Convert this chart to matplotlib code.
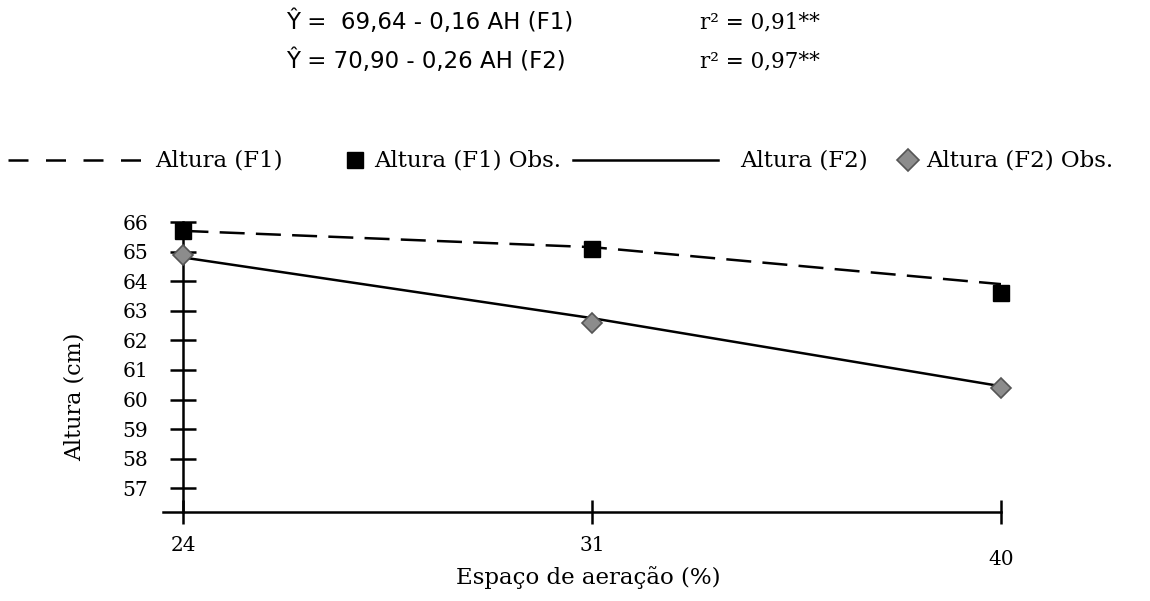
import matplotlib
matplotlib.use("Agg")
import matplotlib.pyplot as plt
from matplotlib.lines import Line2D
import matplotlib.transforms as mtrans

plt.rcParams['font.family'] = ['DejaVu Serif']

# ---- data ----
x_labels = ["24", "31", "40"]
f1_obs = [65.7, 65.1, 63.6]
f2_obs = [64.9, 62.6, 60.4]
f1_fit = [65.7, 65.15, 63.9]
f2_fit = [64.8, 62.75, 60.45]
y_ticks = [57, 58, 59, 60, 61, 62, 63, 64, 65, 66]

W, H = 1150, 601
fig = plt.figure(figsize=(W / 100, H / 100), dpi=100)
ax = fig.add_axes([163 / W, 1 - 512 / H, (1001 - 163) / W, (512 - 222) / H])

xpos = list(range(len(x_labels)))
ax.plot(xpos, f1_fit, color='black', lw=1.8, dashes=(10, 4.5), zorder=2)
ax.plot(xpos, f2_fit, color='black', lw=1.8, zorder=2)
ax.plot(xpos, f1_obs, ls='none', marker='s', ms=12, mfc='black', mec='black', zorder=3, clip_on=False)
ax.plot(xpos, f2_obs, ls='none', marker='D', ms=10.5, mfc='#8c8c8c', mec='#555555', mew=1.2, zorder=3, clip_on=False)

ax.set_xlim(-0.05, 2)
ax.set_ylim(56.2, 66)
ax.spines['left'].set_position(('data', 0))
for s in ['top', 'right']:
    ax.spines[s].set_visible(False)
for s in ['left', 'bottom']:
    ax.spines[s].set_linewidth(1.8)

ax.set_yticks(y_ticks)
ax.set_yticklabels([str(v) for v in y_ticks])
ax.set_xticks(xpos)
ax.set_xticklabels(x_labels)
ax.tick_params(axis='y', direction='inout', length=19, width=1.8, labelsize=14.5, pad=16)
ax.tick_params(axis='x', direction='inout', length=17, width=1.8, labelsize=14.5, pad=9)
# last x label sits slightly lower in the reference
lab = ax.get_xticklabels()[2]
lab.set_transform(lab.get_transform() + mtrans.ScaledTranslation(0, -14 / 100, fig.dpi_scale_trans))

ax.set_ylabel("Altura (cm)", fontsize=16)
ax.yaxis.set_label_coords((75 - 163) / (1001 - 163), (512 - 397) / (512 - 222))
ax.set_xlabel("Espaço de aeração (%)", fontsize=16.5)
ax.xaxis.set_label_coords((588 - 163) / (1001 - 163), (512 - 578) / (512 - 222))
ax.xaxis.label.set_va('center')
ax.yaxis.label.set_va('center')

# ---- equations ----
sans = ['DejaVu Sans']
fig.text(286 / W, 1 - 22 / H, "Ŷ =  69,64 - 0,16 AH (F1)", fontsize=16.5, family=sans, va='center', ha='left')
fig.text(286 / W, 1 - 61 / H, "Ŷ = 70,90 - 0,26 AH (F2)", fontsize=16.5, family=sans, va='center', ha='left')
fig.text(700 / W, 1 - 22 / H, "r² = 0,91**", fontsize=15.5, va='center', ha='left')
fig.text(700 / W, 1 - 61 / H, "r² = 0,97**", fontsize=15.5, va='center', ha='left')

# ---- legend (manual) ----
ly = 1 - 160 / H
fig.add_artist(Line2D([8 / W, 148 / W], [ly, ly], color='black', lw=1.8, dashes=(8, 7)))
fig.text(155 / W, ly, "Altura (F1)", fontsize=16.5, va='center', ha='left')
fig.add_artist(Line2D([355 / W], [ly], marker='s', ms=11, mfc='black', mec='black', ls='none'))
fig.text(374 / W, ly, "Altura (F1) Obs.", fontsize=16.5, va='center', ha='left')
fig.add_artist(Line2D([573 / W, 718 / W], [ly, ly], color='black', lw=1.8))
fig.text(740 / W, ly, "Altura (F2)", fontsize=16.5, va='center', ha='left')
fig.add_artist(Line2D([908 / W], [ly], marker='D', ms=11, mfc='#8c8c8c', mec='#555555', mew=1.2, ls='none'))
fig.text(926 / W, ly, "Altura (F2) Obs.", fontsize=16.5, va='center', ha='left')

fig.savefig("out.png", dpi=100)
